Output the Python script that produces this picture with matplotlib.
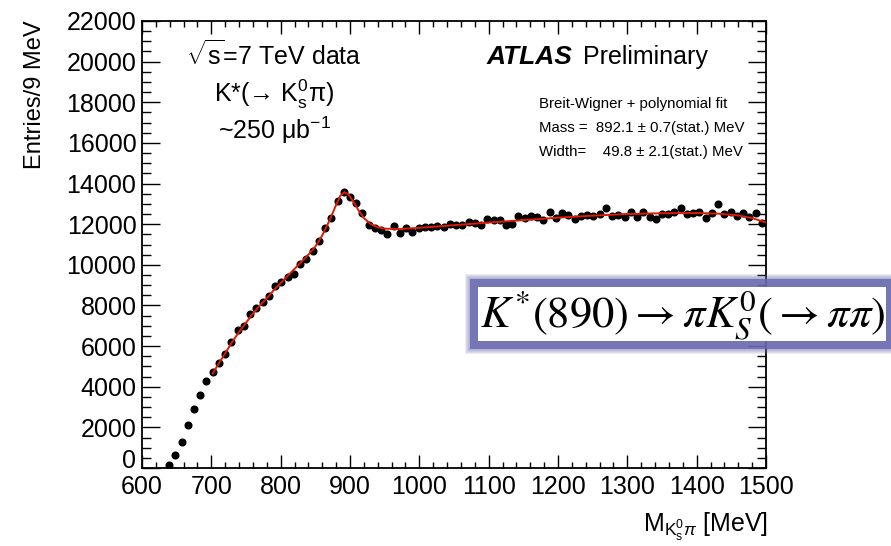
import numpy as np
import matplotlib
matplotlib.use('Agg')
import matplotlib.pyplot as plt
from matplotlib.patches import Rectangle
from matplotlib.ticker import MultipleLocator

# ---------------- data ----------------
mass_bins = [639, 648, 657, 666, 675, 684, 693, 702, 711, 720, 729, 738, 747, 756,
             765, 774, 783, 792, 801, 810, 819, 828, 837, 846, 855, 864, 873, 882,
             891, 900, 909, 918, 927, 936, 945, 954, 963, 972, 981, 990, 999, 1008,
             1017, 1026, 1035, 1044, 1053, 1062, 1071, 1080, 1089, 1098, 1107, 1116,
             1125, 1134, 1143, 1152, 1161, 1170, 1179, 1188, 1197, 1206, 1215, 1224,
             1233, 1242, 1251, 1260, 1269, 1278, 1287, 1296, 1305, 1314, 1323, 1332,
             1341, 1350, 1359, 1368, 1377, 1386, 1395, 1404, 1413, 1422, 1431, 1440,
             1449, 1458, 1467, 1476, 1485, 1494]
entries = [150, 660, 1300, 2100, 2890, 3610, 4270, 4710, 5170, 5630, 6220, 6790, 6990, 7560,
           7890, 8170, 8470, 8940, 9140, 9420, 9530, 10020, 10270, 10700, 11170, 11800, 12300, 13120,
           13570, 13340, 13040, 12550, 11980, 11810, 11700, 11500, 11890, 11550, 11810, 11620, 11800, 11860,
           11880, 11930, 11860, 12010, 11980, 11960, 12090, 12060, 11940, 12240, 12190, 12200,
           11940, 11990, 12400, 12320, 12400, 12370, 12220, 12580, 12300, 12550, 12470, 12270,
           12390, 12450, 12400, 12500, 12780, 12390, 12450, 12340, 12600, 12340, 12600, 12350,
           12240, 12500, 12500, 12600, 12800, 12480, 12550, 12600, 12300, 12530, 13000, 12500,
           12600, 12390, 12530, 12370, 12530, 12080]

fit_mass = [702, 710, 720, 730, 740, 750, 760, 770, 780, 790, 800, 810, 820, 830, 840, 850,
            860, 870, 880, 886, 892, 898, 905, 912, 920, 930, 940, 950, 970, 1000, 1050,
            1100, 1150, 1200, 1250, 1300, 1350, 1400, 1430, 1460, 1480, 1500]
fit_entries = [4650, 5100, 5650, 6200, 6700, 7150, 7600, 8000, 8350, 8750, 9100, 9450, 9800,
               10150, 10500, 10900, 11450, 12150, 12950, 13400, 13580, 13450, 13100, 12700,
               12300, 12000, 11850, 11780, 11760, 11820, 11950, 12080, 12200, 12320, 12420,
               12500, 12540, 12550, 12520, 12430, 12300, 12080]

x_ticks = [600, 700, 800, 900, 1000, 1100, 1200, 1300, 1400, 1500]
y_ticks = [0, 2000, 4000, 6000, 8000, 10000, 12000, 14000, 16000, 18000, 20000, 22000]

# ---------------- style ----------------
plt.rcParams['font.family'] = ['Liberation Sans', 'DejaVu Sans']
plt.rcParams['mathtext.fontset'] = 'custom'
plt.rcParams['mathtext.rm'] = 'Liberation Sans'
plt.rcParams['mathtext.it'] = 'Liberation Sans:italic'
plt.rcParams['mathtext.bf'] = 'Liberation Sans:bold'

W, H = 891, 546
fig = plt.figure(figsize=(W / 100, H / 100), dpi=100)
fig.patch.set_facecolor('white')

L, R, T, B = 142, 766, 21, 468
ax = fig.add_axes([L / W, 1 - B / H, (R - L) / W, (B - T) / H])

ax.plot(mass_bins, entries, 'o', color='black', markersize=4.8, zorder=3)
ax.plot(fit_mass, fit_entries, '-', color='#e01a00', lw=1.4, zorder=4)

ax.set_xlim(600, 1500)
ax.set_ylim(0, 22000)
ax.set_xticks(x_ticks)
ax.set_yticks(y_ticks)
ax.set_xticklabels([str(v) for v in x_ticks])
ax.set_yticklabels([str(v) for v in y_ticks])
ax.xaxis.set_minor_locator(MultipleLocator(20))
ax.yaxis.set_minor_locator(MultipleLocator(500))
ax.tick_params(axis='both', which='both', direction='in', top=True, right=True,
               labelsize=18, width=1.0, color='black')
ax.tick_params(axis='x', which='major', length=9.5, pad=5)
ax.tick_params(axis='x', which='minor', length=4.5)
ax.tick_params(axis='y', which='major', length=13, pad=4)
ax.tick_params(axis='y', which='minor', length=6.5)
for s in ax.spines.values():
    s.set_linewidth(1.3)
# ROOT draws the "0" label a little higher than the x labels
ax.get_yticklabels()[0].set_va('baseline')

# ---------------- texts ----------------
def px(x, y):
    return x / W, 1 - y / H

fig.text(*px(35, 20), 'Entries/9 MeV', rotation=90, ha='center', va='top', fontsize=17)
fig.text(*px(768, 543), r'M$_{\mathrm{K^{0}_{s}}\pi}$ [MeV]', ha='right', va='bottom', fontsize=18)

fig.text(*px(274, 55), r'$\sqrt{\mathrm{s}}$=7 TeV data', ha='center', va='center', fontsize=18)
fig.text(*px(274, 94), r'K*(→ K$^{0}_{\mathrm{s}}$π)', ha='center', va='center', fontsize=18)
fig.text(*px(274, 130), r'~250 μb$^{\mathrm{-1}}$', ha='center', va='center', fontsize=18)

fig.text(*px(487, 57), 'ATLAS', ha='left', va='center', fontsize=19,
         fontweight='bold', fontstyle='italic')
fig.text(*px(583, 57), 'Preliminary', ha='left', va='center', fontsize=18)

fig.text(*px(539, 104), 'Breit-Wigner + polynomial fit', ha='left', va='center', fontsize=10.8)
fig.text(*px(539, 128), 'Mass =  892.1 ± 0.7(stat.) MeV', ha='left', va='center', fontsize=10.8)
fig.text(*px(539, 152), 'Width=    49.8 ± 2.1(stat.) MeV', ha='left', va='center', fontsize=10.8)

# ---------------- highlighted formula box ----------------
ov = fig.add_axes([0, 0, 1, 1], zorder=10)
ov.set_xlim(0, W)
ov.set_ylim(H, 0)
ov.axis('off')
bx0, by0, bx1, by1 = 478, 287, 886, 341
glow = '#6a6ab0'
for k in range(1, 7):
    e = 7 + k
    ov.add_patch(Rectangle((bx0 - e, by0 - e), (bx1 - bx0) + 2 * e, (by1 - by0) + 2 * e,
                           facecolor=glow, edgecolor='none', alpha=0.13))
ov.add_patch(Rectangle((bx0 - 8, by0 - 8), (bx1 - bx0) + 16, (by1 - by0) + 16,
                       facecolor=glow, edgecolor='none', alpha=0.8))
ov.add_patch(Rectangle((bx0, by0), bx1 - bx0, by1 - by0, facecolor='white', edgecolor='none'))
ov.text((bx0 + bx1) / 2 + 1, (by0 + by1) / 2 + 1,
        r'$K^{*}(890) \rightarrow \pi K^{0}_{S}(\rightarrow \pi\pi)$',
        ha='center', va='center', fontsize=32, math_fontfamily='stix', color='black')

fig.savefig('out.png', dpi=100, facecolor='white')
